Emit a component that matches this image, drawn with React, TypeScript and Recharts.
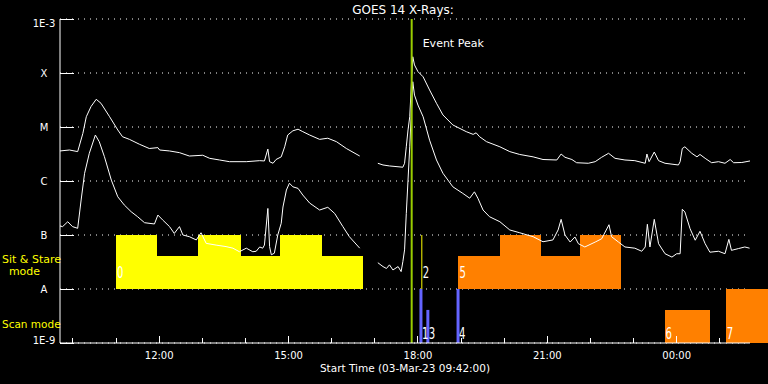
import React from "react";
import {
  ComposedChart, Line, XAxis, YAxis, CartesianGrid,
  ReferenceArea, ReferenceLine, ReferenceDot,
} from "recharts";

// time is in decimal hours of 03-Mar-23 (values > 24 are the next day)
const T_START = 9.7;
const T_END = 25.7;

const hourTicks = [10, 11, 12, 13, 14, 15, 16, 17, 18, 19, 20, 21, 22, 23, 24, 25];
const majorHours = [12, 15, 18, 21, 24];
const fluxTicks = [1e-9, 1e-8, 1e-7, 1e-6, 1e-5, 1e-4, 1e-3];
const fluxLabels = ["1E-9", "A", "B", "C", "M", "X", "1E-3"];

// 1-8 A channel (upper curve), W/m^2
const longChannel: [number, number | null][] = [
  [9.70, 3.6e-6], [9.92, 3.75e-6], [10.11, 3.5e-6], [10.23, 7.6e-6], [10.31, 1.55e-5],
  [10.42, 2.4e-5], [10.54, 3.26e-5], [10.65, 2.75e-5], [10.85, 1.55e-5], [11.04, 8.8e-6],
  [11.15, 6.6e-6], [11.31, 5.9e-6], [11.54, 4.8e-6], [11.77, 4.0e-6], [11.97, 4.15e-6],
  [12.01, 3.75e-6], [12.24, 3.6e-6], [12.47, 3.35e-6], [12.70, 2.9e-6], [13.01, 3.0e-6],
  [13.17, 2.63e-6], [13.40, 2.45e-6], [13.63, 2.28e-6], [14.02, 2.28e-6], [14.33, 2.38e-6],
  [14.44, 2.35e-6], [14.52, 3.9e-6], [14.56, 2.28e-6], [14.64, 2.13e-6], [14.71, 2.5e-6],
  [14.83, 2.8e-6], [14.91, 4.3e-6], [14.98, 7.1e-6], [15.10, 8.5e-6], [15.22, 9.1e-6],
  [15.33, 8.2e-6], [15.49, 7.1e-6], [15.72, 5.9e-6], [15.91, 6.2e-6], [16.11, 5.35e-6],
  [16.34, 4.0e-6], [16.65, 2.9e-6], [16.86, null], [17.07, 2.13e-6], [17.19, 1.98e-6],
  [17.34, 1.9e-6], [17.65, 1.8e-6], [17.69, 2.13e-6], [17.73, 4.3e-6], [17.77, 8.8e-6],
  [17.81, 1.55e-5], [17.88, 2.0e-4], [17.92, 1.41e-4], [18.00, 1.06e-4], [18.12, 8.5e-5],
  [18.27, 4.85e-5], [18.43, 2.75e-5], [18.58, 1.67e-5], [18.81, 1.09e-5], [19.12, 8.2e-6],
  [19.28, 7.3e-6], [19.35, 7.8e-6], [19.43, 6.6e-6], [19.59, 5.35e-6], [19.90, 4.3e-6],
  [20.13, 3.5e-6], [20.36, 3.1e-6], [20.67, 2.8e-6], [20.90, 2.5e-6], [21.22, 2.45e-6],
  [21.32, 3.16e-6], [21.41, 2.75e-6], [21.57, 2.5e-6], [21.68, 2.18e-6], [21.95, 2.13e-6],
  [22.11, 2.28e-6], [22.26, 2.75e-6], [22.42, 3.26e-6], [22.57, 2.63e-6], [22.80, 2.45e-6],
  [23.03, 2.38e-6], [23.27, 2.13e-6], [23.31, 3.16e-6], [23.36, 2.28e-6], [23.48, 3.44e-6],
  [23.58, 2.38e-6], [23.73, 2.13e-6], [24.04, 1.98e-6], [24.08, 2.28e-6], [24.13, 4.0e-6],
  [24.19, 4.3e-6], [24.35, 3.26e-6], [24.47, 2.8e-6], [24.54, 3.1e-6], [24.66, 2.63e-6],
  [24.81, 2.18e-6], [24.97, 2.28e-6], [25.12, 2.13e-6], [25.24, 2.5e-6], [25.32, 2.18e-6],
  [25.51, 2.2e-6], [25.70, 2.35e-6],
];

// 0.5-4 A channel (lower curve)
const shortChannel: [number, number | null][] = [
  [9.70, 1.47e-7], [9.76, 1.43e-7], [9.88, 1.76e-7], [9.99, 1.43e-7], [10.11, 1.33e-7],
  [10.19, 4.45e-7], [10.27, 1.39e-6], [10.38, 3.26e-6], [10.52, 7.1e-6], [10.61, 5.35e-6],
  [10.73, 2.82e-6], [10.89, 1.04e-6], [11.04, 5.1e-7], [11.19, 3.6e-7], [11.35, 2.7e-7],
  [11.50, 2.18e-7], [11.66, 1.69e-7], [11.89, 1.6e-7], [11.97, 2.34e-7], [12.08, 1.9e-7],
  [12.24, 1.43e-7], [12.35, 1.07e-7], [12.47, 1.43e-7], [12.55, 1.0e-7], [12.70, 9.3e-8],
  [12.86, 8.1e-8], [12.97, 1.1e-7], [13.09, 7.0e-8], [13.32, 6.5e-8], [13.55, 6.1e-8],
  [13.71, 5.7e-8], [13.86, 4.9e-8], [14.02, 5.7e-8], [14.17, 4.9e-8], [14.25, 5.0e-8],
  [14.33, 6.0e-8], [14.40, 5.7e-8], [14.44, 6.5e-8], [14.52, 3.1e-7], [14.56, 6.1e-8],
  [14.60, 4.3e-8], [14.67, 4.6e-8], [14.75, 1.0e-7], [14.83, 1.65e-7], [14.87, 3.3e-7],
  [14.95, 6.8e-7], [15.02, 9.1e-7], [15.10, 7.8e-7], [15.22, 7.3e-7], [15.33, 5.5e-7],
  [15.49, 3.9e-7], [15.72, 2.9e-7], [15.91, 3.26e-7], [16.07, 2.5e-7], [16.26, 1.43e-7],
  [16.41, 9.3e-8], [16.65, 5.7e-8], [16.86, null], [17.07, 3.07e-8], [17.19, 2.6e-8],
  [17.27, 2.4e-8], [17.34, 2.8e-8], [17.42, 2.25e-8], [17.54, 2.6e-8], [17.61, 2.1e-8],
  [17.65, 3.2e-8], [17.69, 5.3e-8], [17.73, 2.5e-7], [17.77, 1.04e-6], [17.81, 4.3e-6],
  [17.88, 6.9e-5], [17.92, 3.9e-5], [18.00, 2.55e-5], [18.12, 1.55e-5], [18.27, 5.7e-6],
  [18.43, 2.45e-6], [18.58, 1.39e-6], [18.81, 7.8e-7], [19.04, 5.9e-7], [19.20, 4.8e-7],
  [19.31, 6.3e-7], [19.39, 4.8e-7], [19.51, 2.9e-7], [19.66, 2.18e-7], [19.90, 1.76e-7],
  [20.13, 1.24e-7], [20.36, 1.1e-7], [20.67, 9.3e-8], [20.90, 7.5e-8], [21.13, 8.1e-8],
  [21.25, 1.24e-7], [21.32, 1.95e-7], [21.41, 1.0e-7], [21.53, 7.4e-8], [21.64, 9.2e-8],
  [21.72, 6.9e-8], [21.87, 6.0e-8], [22.11, 7.4e-8], [22.26, 8.5e-8], [22.43, 1.55e-7],
  [22.49, 9.3e-8], [22.65, 7.4e-8], [22.80, 6.0e-8], [23.03, 5.7e-8], [23.19, 5.0e-8],
  [23.27, 6.0e-8], [23.32, 1.58e-7], [23.38, 6.0e-8], [23.48, 1.95e-7], [23.58, 6.9e-8],
  [23.73, 4.5e-8], [23.89, 3.9e-8], [24.00, 4.5e-8], [24.08, 4.5e-8], [24.13, 3.0e-7],
  [24.19, 2.67e-7], [24.31, 1.31e-7], [24.43, 8.0e-8], [24.54, 1.17e-7], [24.66, 6.9e-8],
  [24.77, 4.8e-8], [24.97, 5.0e-8], [25.12, 4.5e-8], [25.21, 8.3e-8], [25.27, 5.2e-8],
  [25.43, 5.6e-8], [25.58, 6.0e-8], [25.69, 5.7e-8],
];

// observing modes: [start, end, top level]
const stareYellow: [number, number, number][] = [
  [11.0, 11.96, 1e-7], [11.96, 12.91, 4.1e-8], [12.91, 13.89, 1e-7],
  [13.89, 14.81, 4.1e-8], [14.81, 15.78, 1e-7], [15.78, 16.73, 4.1e-8],
];
const stareOrange: [number, number, number][] = [
  [18.94, 19.90, 4.1e-8], [19.90, 20.85, 1e-7], [20.85, 21.75, 4.1e-8], [21.75, 22.70, 1e-7],
];
const scanOrange: [number, number, number][] = [
  [23.72, 24.77, 4.1e-9], [25.14, 26.12, 1e-8],
];
// short scans: [time, top level]
const scanBlue: [number, number][] = [[18.07, 1e-8], [18.23, 4.1e-9], [18.93, 1e-8]];
const stareLine = { t: 18.09, from: 1e-8, to: 1e-7 };
const STARE_BASE = 1e-8;
const SCAN_BASE = 1e-9;
const eventPeak = 17.855;

// event numbers: [label, time, mode]
const events: [string, number, "stare" | "scan"][] = [
  ["0", 11.0, "stare"], ["1", 18.07, "scan"], ["2", 18.09, "stare"], ["3", 18.23, "scan"],
  ["4", 18.93, "scan"], ["5", 18.94, "stare"], ["6", 23.72, "scan"], ["7", 25.14, "scan"],
];
const eventLabelLevel = { stare: 2.0e-8, scan: 1.5e-9 };

const FONT = "'DejaVu Sans', sans-serif";
const DIGIT_FONT = "'DejaVu Sans Condensed', 'DejaVu Sans', sans-serif";

const longData = longChannel.map(([t, f]) => ({ t, f }));
const shortData = shortChannel.map(([t, f]) => ({ t, f }));

const hourLabel = (h: number) => `${String(h % 24).padStart(2, "0")}:00`;

const BottomTick = (p: any) => {
  const { x, y, payload } = p;
  const major = majorHours.includes(payload.value);
  return (
    <g>
      <line x1={x} x2={x} y1={y} y2={y - (major ? 7 : 5)} stroke="#fff" shapeRendering="crispEdges" />
      {major && (
        <text x={x} y={y + 12} textAnchor="middle" dominantBaseline="central"
          fill="#fff" fontSize={10} fontFamily={FONT}>
          {hourLabel(payload.value)}
        </text>
      )}
    </g>
  );
};

const TopTick = (p: any) => {
  const { x, y, payload } = p;
  const major = majorHours.includes(payload.value);
  return <line x1={x} x2={x} y1={y} y2={y + (major ? 7 : 4)} stroke="#fff" shapeRendering="crispEdges" />;
};

const LeftTick = (p: any) => {
  const { x, y, payload, index } = p;
  const i = fluxTicks.indexOf(payload.value);
  const dy = i === fluxTicks.length - 1 ? 4 : i === 0 ? -3 : 0;
  return (
    <g>
      <line x1={x} x2={x + 14} y1={y} y2={y} stroke="#fff" shapeRendering="crispEdges" />
      <text x={x - 16} y={y + dy} textAnchor="middle" dominantBaseline="central"
        fill="#fff" fontSize={10} fontFamily={FONT}>
        {fluxLabels[i >= 0 ? i : index]}
      </text>
    </g>
  );
};

const RightTick = (p: any) => {
  const { x, y } = p;
  return <line x1={x - 14} x2={x} y1={y} y2={y} stroke="#fff" shapeRendering="crispEdges" />;
};

const EventNumber = (label: string) => (p: any) => (
  <text transform={`translate(${p.cx + 1},${p.cy}) scale(0.75,1)`} dominantBaseline="central"
    fill="#fff" fontSize={15} fontFamily={DIGIT_FONT}>
    {label}
  </text>
);

const PeakLabel = (p: any) => {
  const vb = p.viewBox || {};
  return (
    <text x={vb.x + 11} y={vb.y + 24} dominantBaseline="central" fill="#fff"
      fontSize={11} fontFamily={FONT}>
      Event Peak
    </text>
  );
};

export default function App() {
  return (
    <div style={{ position: "absolute", left: 0, top: 0, width: 768, height: 384, background: "#000", overflow: "hidden" }}>
      <ComposedChart width={768} height={384} data={longData}
        margin={{ top: 19, right: 18, bottom: 11, left: 0 }}>
        <XAxis xAxisId="b" dataKey="t" type="number" domain={[T_START, T_END]} allowDataOverflow
          ticks={hourTicks} interval={0} height={30} tickSize={0} tickMargin={0}
          axisLine={{ stroke: "#fff" }} tickLine={false} tick={BottomTick} />
        <XAxis xAxisId="t" orientation="top" dataKey="t" type="number" domain={[T_START, T_END]} allowDataOverflow
          ticks={hourTicks} interval={0} height={0} tickSize={0} tickMargin={0}
          axisLine={{ stroke: "#fff" }} tickLine={false} tick={TopTick} />
        <YAxis yAxisId="l" type="number" scale="log" domain={[1e-9, 1e-3]} allowDataOverflow
          ticks={fluxTicks} interval={0} width={60} tickSize={0} tickMargin={0}
          axisLine={{ stroke: "#fff" }} tickLine={false} tick={LeftTick} />
        <YAxis yAxisId="r" orientation="right" type="number" scale="log" domain={[1e-9, 1e-3]} allowDataOverflow
          ticks={fluxTicks} interval={0} width={0} tickSize={0} tickMargin={0}
          axisLine={{ stroke: "#fff" }} tickLine={false} tick={RightTick} />
        <CartesianGrid xAxisId="b" yAxisId="l" vertical={false} stroke="#fff" strokeDasharray="1 5" />

        {stareYellow.map(([a, b, top], i) => (
          <ReferenceArea key={`sy${i}`} xAxisId="b" yAxisId="l" x1={a} x2={b} y1={STARE_BASE} y2={top}
            fill="#ffff00" fillOpacity={1} stroke="none" ifOverflow="visible" shapeRendering="crispEdges" />
        ))}
        {stareOrange.map(([a, b, top], i) => (
          <ReferenceArea key={`so${i}`} xAxisId="b" yAxisId="l" x1={a} x2={b} y1={STARE_BASE} y2={top}
            fill="#ff8000" fillOpacity={1} stroke="none" ifOverflow="visible" shapeRendering="crispEdges" />
        ))}
        {scanOrange.map(([a, b, top], i) => (
          <ReferenceArea key={`sc${i}`} xAxisId="b" yAxisId="l" x1={a} x2={b} y1={SCAN_BASE} y2={top}
            fill="#ff8000" fillOpacity={1} stroke="none" ifOverflow="visible" shapeRendering="crispEdges" />
        ))}
        {scanBlue.map(([t, top], i) => (
          <ReferenceLine key={`sb${i}`} xAxisId="b" yAxisId="l"
            segment={[{ x: t, y: SCAN_BASE }, { x: t, y: top }]} stroke="#6464ff" strokeWidth={3} />
        ))}
        <ReferenceLine xAxisId="b" yAxisId="l"
          segment={[{ x: stareLine.t, y: stareLine.from }, { x: stareLine.t, y: stareLine.to }]}
          stroke="#ffff00" strokeWidth={1} />

        <Line xAxisId="b" yAxisId="l" data={longData} dataKey="f" type="linear" stroke="#fff"
          strokeWidth={1} dot={false} connectNulls={false} isAnimationActive={false} />
        <Line xAxisId="b" yAxisId="l" data={shortData} dataKey="f" type="linear" stroke="#fff"
          strokeWidth={1} dot={false} connectNulls={false} isAnimationActive={false} />

        <ReferenceLine xAxisId="b" yAxisId="l" x={eventPeak} stroke="#99cc00" strokeWidth={2}
          label={<PeakLabel />} />

        {events.map(([label, t, mode]) => (
          <ReferenceDot key={`ev${label}`} xAxisId="b" yAxisId="l" x={t} y={eventLabelLevel[mode]}
            r={0} shape={EventNumber(label)} ifOverflow="visible" />
        ))}
      </ComposedChart>

      <svg width={768} height={384} style={{ position: "absolute", left: 0, top: 0, pointerEvents: "none" }}>
        <text x={403} y={10} textAnchor="middle" dominantBaseline="central" fill="#fff"
          fontSize={12} fontFamily={FONT}>GOES 14 X-Rays:</text>
        <text x={405} y={368} textAnchor="middle" dominantBaseline="central" fill="#fff"
          fontSize={10.5} fontFamily={FONT}>Start Time (03-Mar-23 09:42:00)</text>
        <text x={2} y={259} dominantBaseline="central" fill="#ffff00"
          fontSize={11} fontFamily={FONT}>Sit &amp; Stare</text>
        <text x={24.5} y={271} textAnchor="middle" dominantBaseline="central" fill="#ffff00"
          fontSize={11} fontFamily={FONT}>mode</text>
        <text x={2} y={324} dominantBaseline="central" fill="#ffff00"
          fontSize={10.5} fontFamily={FONT}>Scan mode</text>
      </svg>
    </div>
  );
}
